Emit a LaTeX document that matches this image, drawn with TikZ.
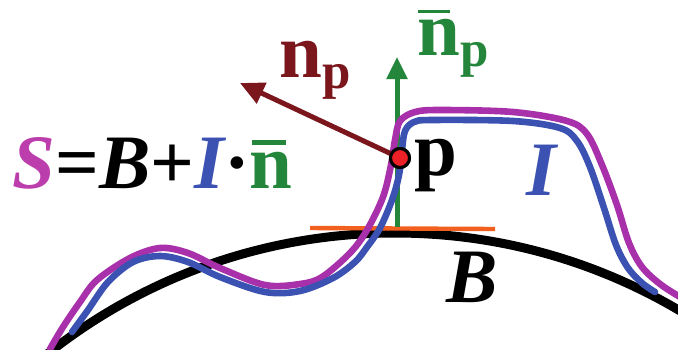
\documentclass[tikz,border=0pt]{standalone}
\usepackage{fontspec}
\setmainfont{Liberation Serif}
\usetikzlibrary{arrows.meta}
\definecolor{cpurple}{RGB}{168,48,170}
\definecolor{cmag}{RGB}{188,62,172}
\definecolor{cblue}{RGB}{60,82,178}
\definecolor{cgreen}{RGB}{36,134,58}
\definecolor{cdred}{RGB}{122,22,28}
\definecolor{corange}{RGB}{242,96,32}
\definecolor{cdot}{RGB}{236,32,38}
\begin{document}
\begin{tikzpicture}[x=0.5pt,y=-0.5pt,
  lbl/.style={inner sep=0pt, anchor=base west, font=\fontsize{38.5}{40}\selectfont\bfseries},
  curve/.style={line width=3.3pt, line cap=round, line join=round},
  garrow/.style={cgreen, line width=2.5pt, -{Triangle[width=10pt,length=11pt]}},
  rarrow/.style={cdred, line width=2.5pt, -{Triangle[width=11pt,length=12pt]}},
  dotstyle/.style={circle, fill=cdot, draw=black, line width=1.5pt, minimum size=9.5pt, inner sep=0pt}]
\useasboundingbox (0,0) rectangle (678,349);
\begin{scope}
  \clip (0,0) rectangle (678,349);
  \draw[line width=4.5pt, black] (395,793) circle[radius=280pt];
\end{scope}
\coordinate (tL) at (310,228);
\coordinate (tR) at (495,229);
\draw[corange, line width=2.2pt] (tL) -- (tR);
\coordinate (gbase) at (397,227);
\coordinate (gtip) at (397,57);
\draw[garrow] (gbase) -- (gtip);
% purple outer curve
\draw[curve, cpurple] plot[smooth, tension=0.55] coordinates {
 (50,349) (63,327) (80,302) (97,280) (130,258) (160,248) (188,253) (220,268)
 (265,285) (300,284) (322,277) (350,253) (367,230) (383,197) (391,165) (395,140)
 (400,121) (415,112) (440,110) (513,112) (567,121) (587,134) (602,165) (617,205)
 (629,243) (642,267) (660,284) (680,297)};
% blue inner curve
\draw[curve, cblue] plot[smooth, tension=0.55] coordinates {
 (72,332) (88,310) (108,282) (133,262) (160,256) (188,262) (220,277) (265,292)
 (300,291) (333,278) (355,262) (367,247) (380,228) (392,200) (399,175) (402,150)
 (405,131) (414,122) (432,120) (513,121) (560,128) (577,141) (590,167) (604,208)
 (616,245) (628,268) (642,283) (655,292)};
\node[dotstyle] (p) at (400,158) {};
\coordinate (ntip) at (240,83);
\draw[rarrow] (p.center) -- (ntip);
\node[dotstyle] (p2) at (p) {};
\node[lbl, text=cdred] (np) at (279,77) {n\raisebox{-5.5pt}{\fontsize{25.5}{26}\selectfont p}};
\node[lbl, text=cgreen] (nbp) at (417,55) {n\raisebox{-5.5pt}{\fontsize{25.5}{26}\selectfont p}};
\draw[cgreen, line width=1.8pt] ([xshift=0.5pt, yshift=21.75pt]nbp.base west) -- ([xshift=16.5pt, yshift=21.75pt]nbp.base west);
\node[lbl] (plbl) at (414,175) {p};
\node[lbl, text=cblue, font=\fontsize{38.5}{40}\selectfont\bfseries\itshape] (Ilbl) at (526,195) {I};
\node[lbl, font=\fontsize{38.5}{40}\selectfont\bfseries\itshape] (Blbl) at (446,302) {B};
\node[lbl] (eq) at (12,188) {{\itshape\color{cmag}S}={\itshape B}+{\itshape\color{cblue}I}·{\color{cgreen}n}};
\draw[cgreen, line width=2.2pt] ([xshift=-20.5pt, yshift=22.75pt]eq.base east) -- ([xshift=-3.5pt, yshift=22.75pt]eq.base east);
\end{tikzpicture}
\end{document}
